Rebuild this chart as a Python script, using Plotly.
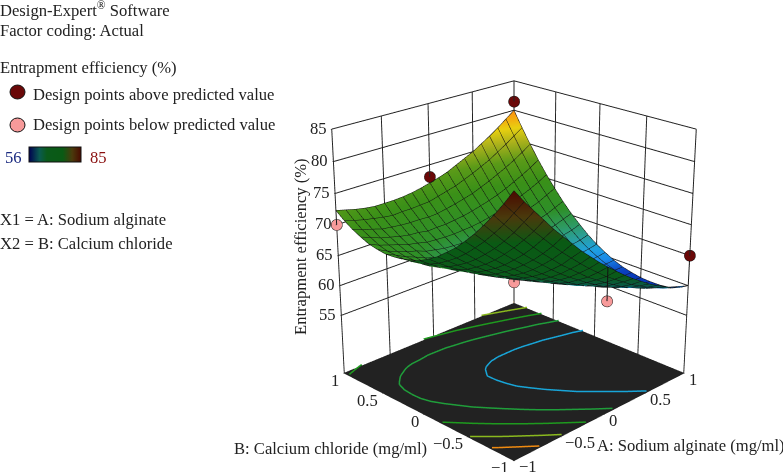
import numpy as np
import plotly.graph_objects as go

factor_a = [-1.0,-0.9,-0.8,-0.7,-0.6,-0.5,-0.4,-0.3,-0.2,-0.1,0.0,0.1,0.2,0.3,0.4,0.5,0.6,0.7,0.8,0.9,1.0]
factor_b = [-1.0,-0.9,-0.8,-0.7,-0.6,-0.5,-0.4,-0.3,-0.2,-0.1,0.0,0.1,0.2,0.3,0.4,0.5,0.6,0.7,0.8,0.9,1.0]
# rows follow factor_b, columns follow factor_a
efficiency = [
[85.0,83.0,81.2,79.4,77.6,76.0,74.4,72.8,71.4,70.0,68.7,67.5,66.3,65.2,64.2,63.2,62.4,61.6,60.8,60.3,60.0],
[82.7,80.9,79.1,77.3,75.7,74.1,72.6,71.2,69.8,68.5,67.3,66.1,65.1,64.1,63.1,62.3,61.5,60.8,60.1,59.6,59.3],
[80.6,78.8,77.1,75.5,73.9,72.4,71.0,69.6,68.4,67.2,66.0,65.0,64.0,63.1,62.2,61.4,60.7,60.1,59.6,59.1,58.6],
[78.7,77.0,75.3,73.8,72.3,70.9,69.6,68.3,67.1,66.0,65.0,64.0,63.1,62.2,61.5,60.8,60.2,59.6,59.2,58.8,58.4],
[76.9,75.3,73.7,72.3,70.9,69.6,68.3,67.1,66.0,65.0,64.0,63.1,62.3,61.6,60.9,60.3,59.8,59.3,58.9,58.6,58.4],
[75.3,73.8,72.3,70.9,69.6,68.4,67.2,66.1,65.1,64.2,63.3,62.5,61.7,61.1,60.5,60.0,59.5,59.2,58.9,58.6,58.5],
[73.8,72.4,71.0,69.7,68.5,67.4,66.3,65.3,64.3,63.5,62.7,62.0,61.3,60.8,60.2,59.8,59.5,59.2,59.0,58.8,58.8],
[72.6,71.2,69.9,68.7,67.6,66.5,65.5,64.6,63.8,63.0,62.3,61.6,61.1,60.6,60.2,59.8,59.6,59.4,59.2,59.2,59.2],
[71.4,70.2,69.0,67.8,66.8,65.8,64.9,64.1,63.3,62.6,62.0,61.5,61.0,60.6,60.3,60.0,59.8,59.7,59.7,59.7,59.8],
[70.5,69.3,68.2,67.2,66.2,65.3,64.5,63.7,63.1,62.5,61.9,61.5,61.1,60.8,60.5,60.3,60.2,60.2,60.3,60.4,60.6],
[69.7,68.6,67.6,66.6,65.8,65.0,64.2,63.6,63.0,62.4,62.0,61.6,61.3,61.1,60.9,60.9,60.8,60.9,61.0,61.2,61.5],
[69.1,68.1,67.1,66.3,65.5,64.8,64.1,63.5,63.0,62.6,62.2,62.0,61.7,61.6,61.5,61.5,61.6,61.7,62.0,62.2,62.6],
[68.8,67.8,66.9,66.1,65.4,64.7,64.2,63.7,63.3,62.9,62.6,62.4,62.3,62.3,62.3,62.4,62.5,62.8,63.1,63.4,63.9],
[68.6,67.7,67.0,66.1,65.4,64.9,64.4,64.0,63.7,63.4,63.2,63.1,63.1,63.1,63.2,63.4,63.6,63.9,64.3,64.8,65.3],
[68.5,67.8,67.0,66.4,65.7,65.2,64.8,64.5,64.2,64.1,64.0,63.9,64.0,64.1,64.3,64.5,64.9,65.3,65.7,66.3,66.9],
[68.7,67.9,67.3,66.7,66.3,65.7,65.4,65.1,65.0,64.9,64.9,64.9,65.1,65.3,65.5,65.9,66.3,66.8,67.3,68.0,68.7],
[69.0,68.3,67.8,67.3,66.8,66.5,66.1,66.0,65.9,65.9,66.0,66.1,66.3,66.6,67.0,67.4,67.9,68.5,69.1,69.8,70.6],
[69.6,69.0,68.4,68.0,67.6,67.3,67.2,66.9,67.0,67.0,67.2,67.4,67.7,68.1,68.5,69.0,69.6,70.3,71.0,71.8,72.7],
[70.3,69.7,69.3,68.8,68.6,68.4,68.3,68.3,68.2,68.3,68.6,68.9,69.3,69.7,70.3,70.9,71.6,72.3,73.1,74.0,75.0],
[71.2,70.7,70.3,70.0,69.7,69.5,69.6,69.6,69.7,69.8,70.2,70.6,71.0,71.6,72.2,72.9,73.6,74.5,75.4,76.4,77.4],
[72.3,71.9,71.5,71.2,71.0,71.0,71.0,71.1,71.3,71.6,72.0,72.4,72.9,73.6,74.3,75.0,75.9,76.8,77.8,78.9,80.0],
]
above_a = [1, 0, 1]
above_b = [1, 1, -1]
above_z = [81.5, 73.0, 65.0]
below_a = [-1, 0, 0]
below_b = [1, 0, -1]
below_z = [70.0, 60.6, 63.4]
contour_levels = [63.05, 67.45, 71.55, 75.75, 79.95]
contour_colors = ["#18a5d8", "#1f9e3a", "#1e9a1e", "#8ab91e", "#f08a10"]
axis_ticks = [-1, -0.5, 0, 0.5, 1]
axis_labels = ["−1", "−0.5", "0", "0.5", "1"]
z_ticks = [55, 60, 65, 70, 75, 80, 85]
FLOOR = 45
INK = "#222222"
SERIF = "Liberation Serif"
W, H = 1028, 1165   # large canvas keeps the perspective as weak as the reference
TOP = 327           # part of the canvas above the window

bright = [[0.0,"#000a80"],[0.103,"#0a40c0"],[0.138,"#1a8ae8"],[0.172,"#1fa0e0"],[0.224,"#2a9f9a"],
          [0.276,"#2e9a60"],[0.345,"#2e8f28"],[0.483,"#3a9018"],[0.586,"#5a9a18"],[0.672,"#a8b01c"],
          [0.741,"#e8d010"],[0.81,"#fb9a10"],[1.0,"#e02000"]]
dark = [[0.0,"#000050"],[0.2,"#0a5a50"],[0.345,"#0a5a1a"],[0.65,"#0a5a14"],[0.83,"#4a3a0c"],[1.0,"#4a0a00"]]

a = np.array(factor_a); b = np.array(factor_b); z = np.array(efficiency)

dzb, dza = np.gradient(z, b, a)
facing = 0.44 + 0.037 * (dza + dzb)
z_top = np.where(facing > -0.04, z, np.nan)
z_under = np.where(facing < 0.04, z, np.nan)

grid = dict(show=True, start=-1, end=1, size=0.1, color="#111111", width=1, highlight=False)
mesh = dict(x=grid, y=grid, z=dict(highlight=False))
flat = dict(ambient=1.0, diffuse=0.0, specular=0.0, fresnel=0.0, roughness=1.0)

fig = go.Figure()
fig.add_trace(go.Surface(x=a, y=b, z=z_top, colorscale=bright, cmin=56, cmax=85, showscale=False,
                         contours=mesh, lighting=flat, hoverinfo="skip"))
fig.add_trace(go.Surface(x=a, y=b, z=z_under, colorscale=dark, cmin=56, cmax=85, contours=mesh,
                         lighting=flat, hoverinfo="skip",
                         colorbar=dict(orientation="h", x=29/W, xanchor="left", y=1-(155+TOP)/H, yanchor="middle",
                                       len=52/W, lenmode="fraction", thickness=15, outlinecolor="#111111",
                                       outlinewidth=1, showticklabels=False, ticks="", xpad=0, ypad=0)))

def level_segments(level):
    xs, ys = [], []
    for j in range(len(b) - 1):
        for i in range(len(a) - 1):
            corners = [(a[i], b[j], z[j, i]), (a[i+1], b[j], z[j, i+1]),
                       (a[i+1], b[j+1], z[j+1, i+1]), (a[i], b[j+1], z[j+1, i])]
            cross = []
            for k in range(4):
                p, q = corners[k], corners[(k+1) % 4]
                if (p[2] - level) * (q[2] - level) < 0:
                    t = (level - p[2]) / (q[2] - p[2])
                    cross.append((p[0] + t*(q[0]-p[0]), p[1] + t*(q[1]-p[1])))
            for n in range(0, len(cross) - 1, 2):
                xs += [cross[n][0], cross[n+1][0], None]
                ys += [cross[n][1], cross[n+1][1], None]
    return xs, ys

for lev, col in zip(contour_levels, contour_colors):
    xs, ys = level_segments(lev)
    fig.add_trace(go.Scatter3d(x=xs, y=ys, z=[None if v is None else FLOOR + 0.25 for v in xs], mode="lines",
                               line=dict(color=col, width=3), hoverinfo="skip", showlegend=False))

def surface_at(pa, pb):
    return z[factor_b.index(float(pb)), factor_a.index(float(pa))]

for pa, pb, pz, col in [(p[0], p[1], p[2], "#6a0808") for p in zip(above_a, above_b, above_z)] + \
                       [(p[0], p[1], p[2], "#f79a9a") for p in zip(below_a, below_b, below_z)]:
    fig.add_trace(go.Scatter3d(x=[pa, pa], y=[pb, pb], z=[pz, surface_at(pa, pb)], mode="lines",
                               line=dict(color="#111111", width=2), hoverinfo="skip", showlegend=False))
    fig.add_trace(go.Scatter3d(x=[pa], y=[pb], z=[pz], mode="markers",
                               marker=dict(size=6.5, color=col, line=dict(color="#111111", width=1)),
                               hoverinfo="skip", showlegend=False))

axis = dict(range=[-1, 1], tickmode="array", tickvals=axis_ticks, showbackground=False, gridcolor=INK,
            gridwidth=2, zeroline=False, showline=True, linecolor=INK, ticks="outside", ticklen=1,
            tickcolor=INK, title=dict(text=""), showspikes=False, showticklabels=False)
zaxis = dict(axis, range=[FLOOR, 85], tickvals=z_ticks, showbackground=True, backgroundcolor=INK)

tick_font = dict(family=SERIF, size=16.6, color="#222222")
scene_notes = []
for tv in z_ticks:
    scene_notes.append(dict(x=-1, y=1, z=tv, text=str(tv), showarrow=False, xanchor="right", yanchor="middle",
                            xshift=-3, yshift=1, font=tick_font))
for tv, tl in zip(axis_ticks, axis_labels):
    scene_notes.append(dict(x=tv, y=-1, z=FLOOR, text=tl, showarrow=False, xanchor="left", yanchor="middle",
                            xshift=3, yshift=-6, font=tick_font))
    scene_notes.append(dict(x=-1, y=tv, z=FLOOR, text=tl, showarrow=False, xanchor="right", yanchor="middle",
                            xshift=-3, yshift=-7, font=tick_font))

fig.update_layout(
    width=W, height=H, margin=dict(l=0, r=0, t=0, b=0), paper_bgcolor="white", showlegend=False,
    scene=dict(domain=dict(x=[0, 1], y=[0, 1]), xaxis=axis, yaxis=axis, zaxis=zaxis,
               aspectmode="manual", aspectratio=dict(x=1, y=1, z=1.06), annotations=scene_notes,
               camera=dict(eye=dict(x=-3.7, y=-3.7, z=2.15), center=dict(x=0.0, y=0.0, z=0.0),
                           up=dict(x=0, y=0, z=1), projection=dict(type="perspective"))),
)

def note(text, x, y, color="#222222", size=16.6, anchor="left", angle=0):
    fig.add_annotation(text=text, x=x/W, y=1-(y+TOP)/H, xref="paper", yref="paper", showarrow=False,
                       xanchor=anchor, yanchor="middle", textangle=angle, align="left",
                       font=dict(family=SERIF, size=size, color=color))

note("Design-Expert<sup>®</sup> Software", -2, 10)
note("Factor coding: Actual", -2, 30)
note("Entrapment efficiency (%)", -2, 68)
note("Design points above predicted value", 31, 94)
note("Design points below predicted value", 31, 125)
note("56", 3, 157, color="#1a2a80")
note("85", 88, 157, color="#8a1010")
note("X1 = A: Sodium alginate", -2, 219)
note("X2 = B: Calcium chloride", -2, 243)
note("Entrapment efficiency (%)", 301, 247, anchor="center", angle=-90)
note("A: Sodium alginate (mg/ml)", 595, 445)
note("B: Calcium chloride (mg/ml)", 232, 448)

for cy, col in [(92, "#6a0808"), (125, "#f79a9a")]:
    fig.add_shape(type="circle", xref="paper", yref="paper", x0=10/W, x1=25/W, y0=1-(cy+7+TOP)/H, y1=1-(cy-7+TOP)/H,
                  fillcolor=col, line=dict(color="#111111", width=1))

fig.write_html("out.html", config=dict(displayModeBar=False),
               post_script=f"document.body.style.margin='-{TOP}px 0 0 0';document.documentElement.style.overflow='hidden';")
